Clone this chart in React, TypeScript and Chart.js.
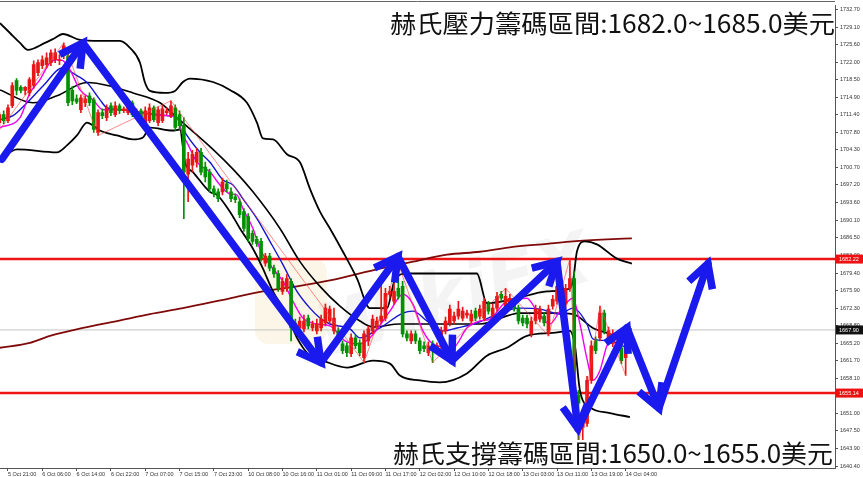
import React, { useEffect, useRef } from "react";
import { Chart, registerables } from "chart.js";
Chart.register(...registerables);

// ---------- data ----------
const FIRST_BAR = -2;
const OPEN = [1709.8,1711.4,1710.2,1713.2,1718.3,1716.9,1716.3,1715.8,1717.3,1719.9,1721.3,1721.5,1721.9,1722.5,1722.3,1723.3,1723.3,1716.3,1714.6,1712.4,1713.8,1715.2,1714.4,1707.8,1711.8,1710.8,1713.2,1711.4,1713.2,1712.2,1711.8,1713.8,1711.4,1712.2,1709.8,1710.2,1712.8,1709.8,1710.2,1711.8,1711.2,1712.8,1711.4,1709.2,1699.4,1701.2,1701.8,1703.8,1700.8,1699.8,1696.4,1695.8,1695.8,1697.4,1695.8,1694.8,1693.8,1691.8,1690.8,1687.4,1686.2,1685.8,1681.4,1682.8,1680.4,1679.3,1675.7,1676.3,1677.7,1669.3,1668.3,1668.1,1670.3,1668.3,1667.7,1668.3,1669.3,1669.7,1667.7,1667.7,1665.1,1664.7,1663.1,1666.3,1665.3,1662.3,1665.7,1667.7,1668.7,1669.7,1670.3,1675.1,1673.7,1676.3,1676.7,1667.1,1665.7,1667.1,1665.7,1664.7,1663.3,1665.1,1664.1,1664.7,1667.7,1669.3,1669.7,1670.7,1670.3,1670.9,1669.7,1671.7,1670.7,1670.3,1673.1,1669.7,1672.3,1675.1,1672.3,1673.1,1673.7,1672.3,1670.3,1670.3,1667.1,1669.7,1670.1,1670.7,1667.3,1672.7,1673.7,1673.7,1673.1,1676.3,1678.3,1654.7,1648.2,1649.0,1657.7,1665.7,1666.3,1671.3,1665.7,1665.1,1666.1,1664.3,1662.3,1668.2];
const HIGH = [1711.8,1712.2,1713.4,1717.9,1718.7,1717.3,1717.1,1718.9,1722.3,1722.5,1723.3,1723.9,1724.5,1724.7,1723.5,1725.9,1723.9,1717.1,1715.4,1715.4,1715.2,1715.8,1714.8,1712.4,1712.6,1713.4,1713.8,1714.0,1713.6,1713.0,1714.4,1714.2,1712.6,1712.6,1713.0,1713.6,1713.2,1713.0,1713.2,1712.8,1714.2,1713.4,1712.2,1710.8,1703.8,1704.2,1704.6,1704.6,1701.8,1700.4,1697.0,1696.4,1698.6,1698.2,1696.6,1695.4,1694.4,1692.4,1691.4,1688.0,1686.8,1686.4,1683.4,1683.4,1681.0,1679.9,1678.5,1679.1,1678.3,1670.1,1670.5,1670.9,1670.9,1669.7,1670.1,1670.9,1673.1,1672.7,1672.3,1668.3,1665.7,1665.3,1667.1,1666.9,1665.9,1667.7,1668.7,1670.9,1670.5,1677.1,1676.3,1676.7,1677.3,1681.3,1677.7,1667.7,1667.7,1667.7,1666.3,1665.5,1665.5,1665.7,1665.3,1668.5,1670.5,1672.9,1671.5,1673.7,1672.5,1671.9,1671.9,1672.3,1672.9,1674.3,1673.7,1673.1,1675.5,1675.7,1676.3,1675.1,1674.3,1672.9,1670.9,1670.9,1670.5,1672.9,1672.7,1671.3,1672.9,1674.9,1677.5,1676.5,1677.1,1682.3,1679.7,1655.7,1650.6,1658.5,1665.7,1666.5,1672.7,1671.9,1668.5,1667.9,1666.9,1665.1,1666.5,1668.6];
const LOW = [1709.2,1709.6,1709.8,1712.8,1715.4,1715.8,1715.4,1715.2,1716.7,1719.3,1720.7,1720.9,1721.3,1721.9,1721.5,1722.7,1713.2,1713.4,1713.6,1711.8,1713.0,1713.2,1707.8,1707.2,1710.6,1710.2,1711.2,1711.0,1711.6,1711.8,1711.4,1711.0,1710.8,1709.6,1709.4,1709.8,1710.0,1709.2,1709.8,1711.4,1710.8,1708.2,1708.4,1690.4,1693.8,1699.8,1700.8,1699.2,1697.8,1695.8,1694.8,1693.8,1695.2,1695.8,1693.8,1693.6,1690.6,1687.8,1685.8,1685.2,1684.8,1681.8,1680.8,1679.8,1678.5,1675.7,1675.1,1675.7,1665.7,1667.5,1667.7,1667.5,1668.1,1667.7,1667.1,1667.7,1668.7,1669.1,1667.1,1665.7,1663.1,1662.5,1662.5,1664.1,1662.7,1661.3,1664.7,1667.1,1668.1,1669.1,1669.7,1674.3,1673.1,1674.1,1666.5,1665.7,1665.1,1665.1,1663.1,1663.5,1662.7,1661.3,1663.5,1664.1,1667.1,1668.7,1669.1,1670.1,1669.7,1670.3,1669.1,1669.7,1670.1,1669.7,1671.1,1669.1,1671.7,1673.7,1671.7,1672.5,1671.7,1669.1,1668.7,1668.3,1666.5,1669.1,1669.5,1668.7,1666.7,1672.1,1673.1,1673.1,1672.5,1675.7,1653.7,1644.6,1645.6,1648.4,1657.1,1663.1,1665.7,1667.1,1665.1,1664.5,1665.5,1661.1,1658.7,1667.6];
const CLOSE = [1711.4,1710.2,1712.8,1717.3,1716.3,1716.3,1716.9,1718.5,1721.5,1721.9,1722.5,1722.9,1723.9,1723.9,1722.5,1725.3,1713.8,1714.2,1714.0,1714.8,1714.6,1713.8,1708.4,1711.8,1711.2,1712.8,1711.8,1713.2,1712.2,1712.6,1713.8,1711.4,1712.0,1710.2,1712.2,1712.8,1710.4,1712.4,1712.6,1712.2,1713.2,1708.8,1709.2,1699.8,1702.4,1703.4,1703.8,1699.8,1698.8,1696.4,1695.4,1694.4,1697.8,1696.4,1694.4,1694.2,1691.2,1688.4,1686.4,1685.8,1685.4,1682.4,1682.8,1680.4,1679.2,1676.3,1677.7,1678.3,1668.3,1668.3,1669.7,1669.7,1668.7,1669.1,1669.1,1670.1,1672.3,1672.1,1670.3,1666.3,1663.7,1663.3,1666.3,1664.7,1663.3,1667.1,1668.1,1670.1,1669.7,1670.7,1675.3,1675.7,1675.7,1674.7,1667.1,1666.3,1667.1,1665.7,1663.7,1664.1,1664.7,1663.7,1664.7,1667.7,1669.7,1672.1,1670.7,1672.1,1671.7,1671.3,1671.1,1670.3,1672.1,1673.7,1671.7,1672.3,1674.7,1674.3,1674.7,1674.3,1672.3,1669.7,1669.3,1669.1,1669.7,1672.1,1672.1,1669.3,1672.1,1674.1,1676.7,1675.7,1676.3,1678.3,1654.3,1653.1,1649.6,1657.7,1664.7,1663.7,1671.3,1667.7,1667.7,1667.1,1666.3,1661.7,1665.7,1667.9];

// indicator lines: [bar index, price]
const BB_UPPER: [number, number][] = [[-1.86,1729.9],[0.47,1727.9],[2.8,1725.9],[4.66,1724.5],[8.62,1725.9],[10.96,1726.9],[12.82,1727.7],[16.78,1726.5],[21.45,1726.3],[26.11,1726.3],[28.44,1724.9],[30.77,1721.9],[31.93,1717.9],[33.1,1716.2],[36.6,1715.8],[38.93,1716.2],[40.79,1718.0],[42.42,1718.7],[47.79,1718.0],[51.75,1716.4],[55.71,1713.8],[58.04,1709.8],[59.44,1706.6],[61.77,1706.4],[65.03,1703.4],[68.07,1701.8],[70.4,1696.4],[72.73,1691.8],[75.06,1688.4],[78.09,1683.7],[81.35,1678.3],[84.38,1672.3],[88.34,1672.3],[90.21,1678.1],[93.01,1679.3],[109.32,1679.3],[111.66,1673.3],[117.72,1674.1],[125.64,1675.7],[130.3,1676.1],[131.7,1677.7],[132.63,1683.7],[134.5,1685.8],[137.3,1685.2],[141.96,1682.3],[145.45,1681.3]];
const BB_MIDDLE: [number, number][] = [[-1.86,1716.4],[5.83,1713.8],[11.42,1715.2],[18.41,1717.9],[23.78,1717.2],[29.14,1715.8],[35.43,1713.8],[39.39,1710.8],[47.79,1704.4],[52.45,1700.4],[57.11,1695.8],[63.4,1688.4],[68.07,1681.7],[72.73,1676.7],[77.39,1672.7],[82.05,1669.7],[85.08,1668.5],[91.38,1669.1],[103.03,1669.1],[110.02,1669.1],[119.35,1671.3],[127.04,1671.3],[131.7,1671.1],[136.36,1668.3],[140.33,1667.1],[144.99,1665.7]];
const BB_LOWER: [number, number][] = [[-1.86,1702.4],[2.1,1704.4],[11.42,1703.8],[13.75,1705.2],[16.08,1707.2],[18.41,1709.8],[19.81,1709.2],[21.45,1708.2],[25.41,1707.2],[29.14,1706.4],[31.47,1706.8],[33.1,1708.8],[38.46,1708.2],[40.09,1708.4],[41.26,1701.8],[43.12,1699.8],[47.09,1695.8],[48.72,1695.2],[51.75,1691.8],[54.08,1688.4],[57.11,1684.3],[59.44,1680.3],[61.77,1675.7],[65.03,1671.1],[67.37,1666.3],[70.4,1662.7],[73.43,1661.7],[79.02,1660.3],[85.08,1661.7],[89.04,1661.1],[91.38,1658.7],[96.04,1657.7],[100.7,1657.3],[106.99,1659.1],[111.66,1662.7],[116.32,1664.3],[120.98,1666.7],[127.04,1667.3],[131.0,1667.7],[132.17,1664.7],[133.33,1655.7],[135.66,1652.3],[140.33,1651.1],[144.99,1650.3]];
const MA_BLUE: [number, number][] = [[-1.86,1710.4],[1.17,1711.2],[4.43,1713.8],[8.16,1717.2],[12.82,1720.9],[13.75,1720.5],[16.08,1719.3],[18.41,1717.9],[21.45,1714.4],[23.08,1712.8],[26.81,1712.4],[31.47,1711.8],[37.06,1711.2],[39.39,1710.8],[41.72,1707.2],[44.76,1703.8],[47.09,1701.8],[50.12,1698.2],[52.45,1697.2],[54.78,1694.4],[58.04,1690.4],[61.07,1685.8],[64.1,1681.1],[67.37,1675.7],[70.4,1672.3],[72.73,1670.3],[75.06,1669.1],[79.72,1668.1],[82.05,1666.3],[86.71,1668.3],[92.07,1671.3],[94.41,1671.7],[97.67,1669.7],[101.4,1667.7],[104.66,1668.3],[109.32,1669.3],[113.05,1670.7],[119.35,1672.3],[124.01,1672.1],[128.67,1671.1],[131.7,1672.3],[134.97,1669.1],[136.36,1666.1],[140.33,1665.7],[144.29,1664.3]];
const MA_MAGENTA: [number, number][] = [[-1.86,1708.8],[2.8,1710.8],[5.13,1715.8],[7.46,1718.5],[9.79,1721.9],[11.42,1722.5],[12.82,1722.3],[14.45,1720.5],[16.78,1716.4],[19.81,1714.4],[22.14,1712.4],[26.81,1712.4],[30.77,1711.8],[37.06,1711.2],[39.39,1710.8],[40.79,1707.2],[41.72,1705.8],[44.06,1701.8],[47.09,1699.8],[49.42,1697.2],[51.75,1695.4],[53.38,1695.2],[54.78,1692.4],[57.11,1688.4],[58.74,1684.3],[61.07,1681.1],[64.1,1677.7],[66.43,1673.7],[68.76,1670.3],[72.03,1669.1],[75.06,1668.7],[78.55,1665.7],[82.05,1665.1],[84.38,1666.3],[89.04,1671.7],[92.07,1675.1],[94.41,1673.1],[96.74,1667.7],[99.07,1665.1],[103.73,1664.3],[106.99,1668.3],[110.02,1669.7],[112.35,1670.1],[116.32,1673.7],[120.98,1674.3],[123.31,1671.7],[126.34,1669.1],[128.67,1671.7],[131.7,1674.3],[133.33,1669.1],[134.97,1662.1],[136.36,1657.7],[138.0,1659.7],[139.63,1664.7],[141.49,1666.3],[144.99,1665.1]];
const MA_LONG: [number, number][] = [[-1.86,1664.3],[5.13,1665.3],[9.79,1666.7],[17.48,1668.3],[25.41,1669.7],[33.1,1671.1],[40.79,1672.3],[51.75,1674.3],[59.44,1675.7],[67.37,1676.7],[75.06,1677.9],[86.71,1680.3],[94.41,1681.7],[102.33,1683.1],[110.02,1683.7],[117.72,1684.7],[125.64,1685.3],[131.7,1685.8],[139.63,1686.2],[145.45,1686.4]];
const ZIGZAG: [number, number][] = [[-1.86,1708.4],[13,1725.9],[21,1707.2],[38,1714.2],[83,1661.3],[91,1681.3],[99,1661.3],[116,1676.3],[126,1666.7],[131,1682.3],[133,1644.6],[138,1672.7],[144,1658.7]];
const ARROW_PATH: [number, number][] = [[-1.4,1702.4],[17.48,1725.9],[72.96,1661.3],[90.91,1682.7],[103.5,1661.7],[127.97,1681.7],[132.87,1648.0],[144.29,1668.3],[151.75,1652.1],[163.17,1681.3]];

const X_TICK_INDEX = [0,8,16,24,32,40,48,56,64,72,80,88,96,104,112,120,128,136,144];
const X_TICK_LABELS = ["5 Oct 21:00","6 Oct 06:00","6 Oct 14:00","6 Oct 22:00","7 Oct 07:00","7 Oct 15:00","7 Oct 23:00","10 Oct 08:00","10 Oct 16:00","11 Oct 01:00","11 Oct 09:00","11 Oct 17:00","12 Oct 02:00","12 Oct 10:00","12 Oct 18:00","13 Oct 03:00","13 Oct 11:00","13 Oct 19:00","14 Oct 04:00"];
const Y_TICKS = [1732.70,1729.10,1725.60,1722.00,1718.50,1714.90,1711.40,1707.80,1704.30,1700.70,1697.20,1693.60,1690.10,1686.50,1683.00,1679.40,1675.90,1672.30,1668.80,1665.20,1661.70,1658.10,1654.60,1651.00,1647.50,1643.90,1640.40];

const RESIST_PRICE = 1682.22;
const SUPPORT_PRICE = 1655.14;
const LAST_PRICE = 1667.90;
const TOP_TEXT = "赫氏壓力籌碼區間:1682.0~1685.0美元";
const BOTTOM_TEXT = "赫氏支撐籌碼區間:1650.0~1655.0美元";

const X_MIN = -1.86, X_MAX = 192.8;
const Y_MIN = 1640.0, Y_MAX = 1733.5;

const RED = "rgb(232,22,22)";
const GREEN = "rgb(0,145,0)";
const ARROW_BLUE = "rgb(26,26,238)";
const AXIS_FONT = "Liberation Sans";
const CJK_FONT = '"Noto Sans CJK TC", "Noto Sans CJK SC", sans-serif';

const pts = (a: [number, number][]) => a.map(([x, y]) => ({ x, y }));

const overlayPlugin = {
  id: "overlay",
  beforeDatasetsDraw(chart: any) {
    const ctx = chart.ctx;
    ctx.save();
    // faint watermark
    ctx.fillStyle = "rgba(240,222,170,0.28)";
    ctx.beginPath();
    ctx.roundRect(255, 258, 72, 86, 14);
    ctx.fill();
    ctx.translate(455, 300);
    ctx.rotate(-0.28);
    ctx.font = 'bold italic 72px "DejaVu Sans"';
    ctx.fillStyle = "rgba(170,170,170,0.13)";
    ctx.textAlign = "center";
    ctx.textBaseline = "middle";
    ctx.fillText("WikiFX", 0, 0);
    ctx.restore();
  },
  afterDatasetsDraw(chart: any) {
    const ctx = chart.ctx;
    const xs = chart.scales.x, ys = chart.scales.y;
    ctx.save();
    ctx.strokeStyle = ARROW_BLUE;
    ctx.lineWidth = 7.5;
    ctx.lineJoin = "miter";
    ctx.lineCap = "butt";
    for (let k = 1; k < ARROW_PATH.length; k++) {
      const x0 = xs.getPixelForValue(ARROW_PATH[k - 1][0]);
      const y0 = ys.getPixelForValue(ARROW_PATH[k - 1][1]);
      const x1 = xs.getPixelForValue(ARROW_PATH[k][0]);
      const y1 = ys.getPixelForValue(ARROW_PATH[k][1]);
      const ang = Math.atan2(y0 - y1, x0 - x1);
      const L = 26, spread = 0.5;
      ctx.beginPath();
      ctx.moveTo(x1 + L * Math.cos(ang + spread), y1 + L * Math.sin(ang + spread));
      ctx.lineTo(x1, y1);
      ctx.lineTo(x1 + L * Math.cos(ang - spread), y1 + L * Math.sin(ang - spread));
      ctx.stroke();
    }
    ctx.restore();
  },
  afterDraw(chart: any) {
    const ctx = chart.ctx;
    const ys = chart.scales.y;
    const area = chart.chartArea;
    ctx.save();
    // top border
    ctx.strokeStyle = "#666";
    ctx.lineWidth = 1;
    ctx.beginPath();
    ctx.moveTo(0, 1.5);
    ctx.lineTo(area.right, 1.5);
    ctx.stroke();
    // price boxes
    const boxes: [number, string][] = [[RESIST_PRICE, "#ee1111"], [LAST_PRICE, "#111"], [SUPPORT_PRICE, "#ee1111"]];
    ctx.font = `5.5px "${AXIS_FONT}"`;
    ctx.textBaseline = "middle";
    ctx.textAlign = "left";
    for (const [p, c] of boxes) {
      const y = ys.getPixelForValue(p);
      ctx.fillStyle = c;
      ctx.fillRect(area.right + 1, y - 4.5, 27, 9);
      ctx.fillStyle = "#fff";
      ctx.fillText(p.toFixed(2), area.right + 4, y + 0.5);
    }
    // annotation texts
    ctx.font = `25px ${CJK_FONT}`;
    ctx.textBaseline = "middle";
    ctx.fillStyle = "#111";
    const w1 = ctx.measureText(TOP_TEXT).width;
    const s1 = 445 / w1;
    ctx.save();
    ctx.translate(390, 23);
    ctx.scale(s1, 1);
    ctx.fillText(TOP_TEXT, 0, 0);
    ctx.restore();
    ctx.fillStyle = "#fff";
    ctx.fillRect(390, 440, 445, 27);
    ctx.fillStyle = "#111";
    const w2 = ctx.measureText(BOTTOM_TEXT).width;
    const s2 = 440 / w2;
    ctx.save();
    ctx.translate(393, 453);
    ctx.scale(s2, 1);
    ctx.fillText(BOTTOM_TEXT, 0, 0);
    ctx.restore();
    ctx.restore();
  },
};

export default function App() {
  const ref = useRef<HTMLCanvasElement | null>(null);
  useEffect(() => {
    document.body.style.margin = "0";
    const canvas = ref.current;
    if (!canvas) return;
    const idx = OPEN.map((_, i) => i + FIRST_BAR);
    const colors = OPEN.map((o, i) => (CLOSE[i] >= o ? RED : GREEN));
    const hline = (p: number) => [{ x: X_MIN, y: p }, { x: X_MAX, y: p }];
    const lineDs = (data: any, color: string, width: number, order: number, smooth = true) => ({
      type: "line" as const,
      data,
      borderColor: color,
      borderWidth: width,
      pointRadius: 0,
      fill: false,
      cubicInterpolationMode: smooth ? ("monotone" as const) : ("default" as const),
      tension: 0,
      order,
    });
    const chart = new Chart(canvas, {
      type: "bar",
      data: {
        datasets: [
          {
            ...lineDs(pts(ARROW_PATH), ARROW_BLUE, 7.5, 0, false),
            borderJoinStyle: "round",
            borderCapStyle: "round",
          } as any,
          lineDs(pts(ZIGZAG), "rgba(255,60,60,0.75)", 0.8, 1, false),
          {
            type: "bar",
            data: idx.map((x, i) => ({ x, y: [OPEN[i], CLOSE[i]] })),
            backgroundColor: colors,
            barThickness: 3,
            grouped: false,
            minBarLength: 1,
            borderWidth: 0,
            order: 2,
          } as any,
          {
            type: "bar",
            data: idx.map((x, i) => ({ x, y: [LOW[i], HIGH[i]] })),
            backgroundColor: colors,
            barThickness: 1,
            grouped: false,
            borderWidth: 0,
            order: 2,
          } as any,
          lineDs(pts(MA_MAGENTA), "rgb(240,0,240)", 1.4, 3),
          lineDs(pts(MA_BLUE), "rgb(20,20,210)", 1.4, 4),
          lineDs(pts(BB_UPPER), "#000", 1.8, 5),
          lineDs(pts(BB_MIDDLE), "#000", 1.6, 5),
          lineDs(pts(BB_LOWER), "#000", 1.8, 5),
          lineDs(pts(MA_LONG), "rgb(128,10,10)", 1.8, 6),
          lineDs(hline(RESIST_PRICE), "rgb(238,20,20)", 2.5, 7, false),
          lineDs(hline(SUPPORT_PRICE), "rgb(238,20,20)", 2.5, 7, false),
          lineDs(hline(LAST_PRICE), "#c4c4c4", 1, 8, false),
        ],
      },
      options: {
        responsive: false,
        animation: false,
        devicePixelRatio: 1,
        layout: { padding: { top: 2, left: 0, right: 0, bottom: 0 } },
        plugins: { legend: { display: false }, tooltip: { enabled: false } },
        scales: {
          x: {
            type: "linear",
            min: X_MIN,
            max: X_MAX,
            offset: false,
            position: "bottom",
            grid: { display: true, drawOnChartArea: false, drawTicks: true, tickLength: 3, color: "#555", offset: false },
            border: { display: true, color: "#555" },
            ticks: {
              autoSkip: false,
              maxRotation: 0,
              minRotation: 0,
              align: "start",
              padding: 0,
              color: "#333",
              font: { size: 5.5, family: AXIS_FONT },
              callback: (v: any) => {
                const k = X_TICK_INDEX.indexOf(Number(v));
                return k >= 0 ? X_TICK_LABELS[k] : "";
              },
            },
            afterBuildTicks: (s: any) => {
              s.ticks = X_TICK_INDEX.map((v) => ({ value: v }));
            },
            afterFit: (s: any) => {
              s.height = 9;
            },
          } as any,
          y: {
            type: "linear",
            position: "right",
            min: Y_MIN,
            max: Y_MAX,
            beginAtZero: false,
            grid: { display: true, drawOnChartArea: false, drawTicks: true, tickLength: 3, color: "#555" },
            border: { display: true, color: "#555" },
            ticks: {
              autoSkip: false,
              padding: 2,
              color: "#333",
              font: { size: 5.5, family: AXIS_FONT },
              callback: (v: any) => Number(v).toFixed(2),
            },
            afterBuildTicks: (s: any) => {
              s.ticks = Y_TICKS.map((v) => ({ value: v }));
            },
            afterFit: (s: any) => {
              s.width = 28;
            },
          } as any,
        },
      },
      plugins: [overlayPlugin],
    } as any);
    return () => chart.destroy();
  }, []);
  return <canvas ref={ref} width={863} height={477} style={{ display: "block", width: 863, height: 477 }} />;
}
